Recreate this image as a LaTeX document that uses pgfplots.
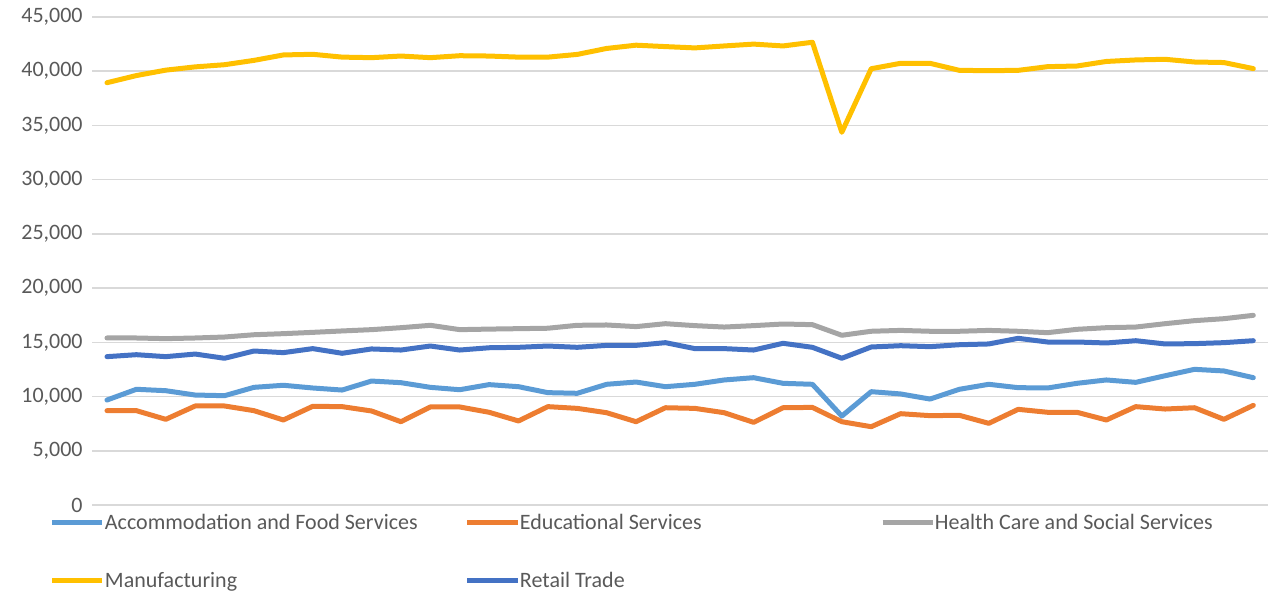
\documentclass[border=0pt]{standalone}
\usepackage{fontspec}
\setmainfont{Carlito}
\usepackage{pgfplots}
\pgfplotsset{compat=1.18}
\definecolor{cAcc}{HTML}{5B9BD5}
\definecolor{cEdu}{HTML}{ED7D31}
\definecolor{cHea}{HTML}{A5A5A5}
\definecolor{cMan}{HTML}{FFC000}
\definecolor{cRet}{HTML}{4472C4}
\definecolor{cGrid}{HTML}{D9D9D9}
\definecolor{cTxt}{HTML}{595959}
\begin{document}
\begin{tikzpicture}
\begin{axis}[
  scale only axis, width=587.85pt, height=244pt,
  xmin=-0.5, xmax=39.5, ymin=0, ymax=45000,
  xtick=\empty, ytick={0,5000,...,45000},
  ymajorgrids, grid style={cGrid, line width=0.75pt},
  axis line style={draw=none}, major tick length=0pt,
  scaled y ticks=false,
  /pgf/number format/assume math mode=true,
  yticklabel={\pgfmathprintnumber[1000 sep={,}]{\tick}},
  yticklabel style={font=\fontsize{11pt}{13pt}\selectfont, text=cTxt, inner sep=0pt, xshift=-4.65pt},
  every axis plot/.append style={line width=2.5pt, line cap=round, line join=round, no markers},
  legend columns=3,
  legend image code/.code={\draw[#1, line cap=butt] (0pt,3.5pt) -- (25pt,3.5pt);},
  legend style={draw=none, fill=none, inner sep=0pt, outer sep=0pt,
    at={(0,0)}, anchor=north west, xshift=-21.15pt, yshift=-4pt,
    row sep=18.25pt, column sep=0pt,
    font=\fontsize{11pt}{13pt}\selectfont, text=cTxt,
    nodes={inner sep=0pt, text height=8pt, text depth=2.75pt, anchor=base west}},
  clip=false,
]
\addplot[cAcc] coordinates {(0,9680)(1,10670)(2,10540)(3,10140)(4,10080)(5,10850)(6,11040)(7,10790)(8,10600)(9,11430)(10,11280)(11,10850)(12,10630)(13,11100)(14,10910)(15,10360)(16,10300)(17,11130)(18,11340)(19,10910)(20,11130)(21,11530)(22,11740)(23,11220)(24,11130)(25,8200)(26,10450)(27,10240)(28,9770)(29,10670)(30,11130)(31,10820)(32,10790)(33,11220)(34,11530)(35,11310)(36,11920)(37,12510)(38,12360)(39,11740)};
\addlegendentry{\makebox[180pt][l]{Accommodation and Food Services}}
\addplot[cEdu] coordinates {(0,8700)(1,8700)(2,7900)(3,9130)(4,9130)(5,8700)(6,7840)(7,9100)(8,9070)(9,8670)(10,7680)(11,9040)(12,9040)(13,8550)(14,7750)(15,9070)(16,8910)(17,8510)(18,7680)(19,8970)(20,8910)(21,8510)(22,7620)(23,8970)(24,9000)(25,7680)(26,7220)(27,8420)(28,8240)(29,8270)(30,7530)(31,8820)(32,8550)(33,8550)(34,7840)(35,9070)(36,8850)(37,8970)(38,7900)(39,9190)};
\addlegendentry{\makebox[180pt][l]{Educational Services}}
\addplot[cHea] coordinates {(0,15400)(1,15400)(2,15340)(3,15400)(4,15490)(5,15700)(6,15800)(7,15920)(8,16050)(9,16170)(10,16350)(11,16570)(12,16170)(13,16220)(14,16260)(15,16300)(16,16570)(17,16600)(18,16450)(19,16720)(20,16540)(21,16410)(22,16540)(23,16690)(24,16630)(25,15650)(26,16020)(27,16100)(28,16020)(29,16020)(30,16100)(31,16020)(32,15890)(33,16200)(34,16350)(35,16410)(36,16720)(37,17000)(38,17180)(39,17490)};
\addlegendentry{Health Care and Social Services}
\addplot[cMan] coordinates {(0,38940)(1,39600)(2,40100)(3,40400)(4,40600)(5,41000)(6,41500)(7,41560)(8,41300)(9,41250)(10,41400)(11,41250)(12,41430)(13,41400)(14,41300)(15,41300)(16,41550)(17,42100)(18,42400)(19,42270)(20,42150)(21,42330)(22,42500)(23,42330)(24,42670)(25,34370)(26,40230)(27,40730)(28,40730)(29,40080)(30,40050)(31,40080)(32,40420)(33,40480)(34,40900)(35,41040)(36,41100)(37,40850)(38,40800)(39,40240)};
\addlegendentry{\makebox[180pt][l]{Manufacturing}}
\addplot[cRet] coordinates {(0,13680)(1,13860)(2,13680)(3,13920)(4,13530)(5,14200)(6,14050)(7,14420)(8,13990)(9,14390)(10,14290)(11,14660)(12,14290)(13,14500)(14,14540)(15,14660)(16,14540)(17,14720)(18,14720)(19,14970)(20,14420)(21,14420)(22,14290)(23,14910)(24,14540)(25,13530)(26,14570)(27,14690)(28,14600)(29,14780)(30,14850)(31,15370)(32,15030)(33,15030)(34,14940)(35,15150)(36,14850)(37,14880)(38,14970)(39,15150)};
\addlegendentry{\makebox[180pt][l]{Retail Trade}}
\end{axis}
\pgfresetboundingbox
\path (-46.15pt,-44.5pt) rectangle (587.85pt,252.5pt);
\end{tikzpicture}
\end{document}
